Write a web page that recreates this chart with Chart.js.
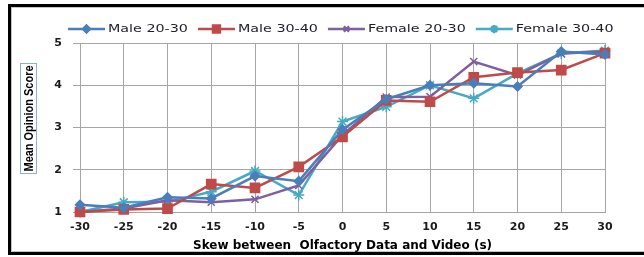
<!DOCTYPE html>
<html>
<head>
<meta charset="utf-8">
<script src="https://cdn.jsdelivr.net/npm/chart.js@4/dist/chart.umd.min.js"></script>
<style>
  html, body { margin: 0; background: #fff; overflow: hidden; }
  body { width: 644px; height: 257px; position: relative; }
  #frame { position: absolute; left: 8px; top: 4px; width: 680px; height: 251px; box-sizing: border-box;
           border: 3px solid #000; border-right: none; box-shadow: inset 1px 1px 0 #c4c4c4, inset 0 -1px 0 #c4c4c4; }
  #myChart { position: absolute; left: 0; top: 0; }
</style>
</head>
<body>
<div id="frame"></div>
<canvas id="myChart" width="644" height="257"></canvas>
<script>
// skew in seconds (x axis)
var skew = [-30, -25, -20, -15, -10, -5, 0, 5, 10, 15, 20, 25, 30];
var xTicks = [-30, -25, -20, -15, -10, -5, 0, 5, 10, 15, 20, 25, 30];
var yTicks = [1, 2, 3, 4, 5];

// mean opinion scores per group
var male2030 = [1.17, 1.1, 1.35, 1.32, 1.85, 1.73, 2.95, 3.67, 4.0, 4.05, 3.97, 4.8, 4.73];
var male3040 = [1.0, 1.06, 1.08, 1.66, 1.57, 2.07, 2.78, 3.64, 3.61, 4.19, 4.3, 4.36, 4.76];
var female2030 = [1.0, 1.08, 1.28, 1.23, 1.3, 1.63, 2.82, 3.72, 3.73, 4.56, 4.24, 4.75, 4.8];
var female3040 = [1.0, 1.23, 1.24, 1.48, 1.97, 1.4, 3.14, 3.49, 4.0, 3.69, 4.28, 4.75, 4.82];

var seriesNames = ['Male 20-30', 'Male 30-40', 'Female 20-30', 'Female 30-40'];
var xTitle = 'Skew between  Olfactory Data and Video (s)';
var yTitle = 'Mean Opinion Score';

function pts(arr) {
  return arr.map(function (v, i) { return { x: skew[i], y: v }; });
}

function series(label, values, color, style, radius) {
  return {
    label: label,
    data: pts(values),
    borderColor: color,
    backgroundColor: color,
    borderWidth: 2.5,
    pointStyle: style,
    pointRadius: radius,
    pointBorderWidth: 1.5,
    pointBorderColor: color,
    pointBackgroundColor: color,
    tension: 0,
    clip: false
  };
}

// legend drawn by hand so it can sit where the original one was
var legendPlugin = {
  id: 'handLegend',
  afterDraw: function (chart) {
    var ctx = chart.ctx;
    var x = 68, y = 29, sx = 1.3;
    ctx.save();
    ctx.font = '11px "DejaVu Sans"';
    ctx.textBaseline = 'middle';
    chart.data.datasets.forEach(function (ds) {
      ctx.strokeStyle = ds.borderColor;
      ctx.lineWidth = 2.5;
      ctx.beginPath();
      ctx.moveTo(x, y);
      ctx.lineTo(x + 37, y);
      ctx.stroke();
      ctx.fillStyle = ds.borderColor;
      Chart.helpers.drawPoint(ctx, {
        pointStyle: ds.pointStyle, radius: ds.pointRadius * 0.75, borderWidth: 1.2
      }, x + 18.5, y);
      ctx.fillStyle = '#1e1e2a';
      var w = ctx.measureText(ds.label).width;
      ctx.save();
      ctx.translate(x + 40, y);
      ctx.scale(sx, 1);
      ctx.fillText(ds.label, 0, 0);
      ctx.restore();
      x += 40 + w * sx + 10;
    });

    // boxed y axis title
    ctx.fillStyle = '#fff';
    ctx.fillRect(20.5, 63.5, 16, 110);
    ctx.strokeStyle = '#8fb0d6';
    ctx.lineWidth = 1;
    ctx.strokeRect(20.5, 63.5, 16, 110);
    ctx.translate(29, 118.5);
    ctx.rotate(-Math.PI / 2);
    ctx.font = 'bold 13px "Liberation Sans Narrow", "Liberation Sans", Arial';
    var tw = ctx.measureText(yTitle).width;
    ctx.scale(106 / tw, 1);
    ctx.fillStyle = '#000';
    ctx.textAlign = 'center';
    ctx.textBaseline = 'middle';
    ctx.fillText(yTitle, 0, 0);
    ctx.restore();
  }
};

var ctx = document.getElementById('myChart').getContext('2d');
var chart = new Chart(ctx, {
  type: 'line',
  data: {
    datasets: [
      series(seriesNames[0], male2030, '#4a7ebb', 'rectRot', 4.5),
      series(seriesNames[1], male3040, '#be4b48', 'rect', 6.5),
      series(seriesNames[2], female2030, '#7d60a0', 'crossRot', 5),
      series(seriesNames[3], female3040, '#46aac5', 'star', 5.5)
    ]
  },
  options: {
    responsive: false,
    devicePixelRatio: 1,
    animation: false,
    layout: { padding: { top: 43, right: 39, bottom: 0, left: 0 } },
    plugins: {
      legend: { display: false },
      tooltip: { enabled: false }
    },
    scales: {
      x: {
        type: 'linear',
        min: xTicks[0],
        max: xTicks[xTicks.length - 1],
        afterBuildTicks: function (scale) {
          scale.ticks = xTicks.map(function (v) { return { value: v }; });
        },
        afterFit: function (scale) { scale.height = 45; },
        grid: { color: '#a6a6a6', drawTicks: false },
        border: { color: '#a6a6a6' },
        ticks: {
          padding: 9,
          maxRotation: 0,
          color: '#1a1a1a',
          font: { family: 'DejaVu Sans', size: 11, weight: 'bold' }
        },
        title: {
          display: true,
          text: xTitle,
          color: '#000',
          padding: { top: 4, bottom: 4 },
          font: { family: 'DejaVu Sans', size: 12, weight: 'bold' }
        }
      },
      y: {
        min: yTicks[0],
        max: yTicks[yTicks.length - 1],
        afterBuildTicks: function (scale) {
          scale.ticks = yTicks.map(function (v) { return { value: v }; });
        },
        afterFit: function (scale) { scale.width = 80; },
        grid: { color: '#a6a6a6', tickLength: 7 },
        border: { color: '#a6a6a6' },
        ticks: {
          padding: 11,
          color: '#1a1a1a',
          font: { family: 'DejaVu Sans', size: 11, weight: 'bold' }
        }
      }
    }
  },
  plugins: [legendPlugin]
});
</script>
</body>
</html>
